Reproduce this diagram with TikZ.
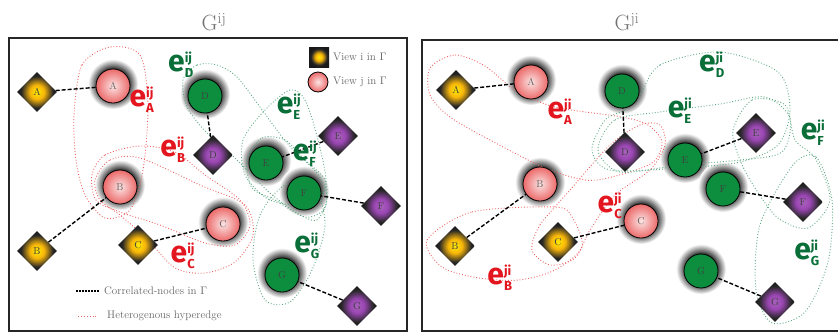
\documentclass[tikz,border=0pt]{standalone}
\usepackage{fontspec}
\newfontfamily\hfont{Fira Sans}
\usetikzlibrary{shapes.geometric,positioning}

\pgfdeclarelayer{paper}
\pgfdeclarelayer{background}
\pgfsetlayers{paper,background,main}

\definecolor{pinkin}{HTML}{FBE3E3}
\definecolor{pinkout}{HTML}{EC6A6A}
\definecolor{nodegreen}{HTML}{0C8E3E}
\definecolor{orangein}{HTML}{F7B50A}
\definecolor{purplein}{HTML}{9A46B2}
\definecolor{labred}{HTML}{E3151E}
\definecolor{labgreen}{HTML}{0A6E38}
\definecolor{hypred}{HTML}{EE6464}
\definecolor{hypgreen}{HTML}{5FAA85}

\pgfdeclareradialshading{halo}{\pgfpoint{0bp}{0bp}}{color(0bp)=(black); color(15bp)=(black!85); color(25bp)=(white); color(50bp)=(white)}
\pgfdeclareradialshading{orangeshade}{\pgfpoint{0bp}{0bp}}{color(0bp)=(yellow!70!orangein); color(9bp)=(orangein); color(20bp)=(black!85); color(25bp)=(black!90); color(50bp)=(black!90)}
\pgfdeclareradialshading{purpleshade}{\pgfpoint{0bp}{0bp}}{color(0bp)=(purplein!85!white); color(9bp)=(purplein); color(20bp)=(black!85); color(25bp)=(black!90); color(50bp)=(black!90)}

\newcommand\hsmall[1]{\mbox{\hfont\bfseries\fontsize{13}{13}\selectfont #1}}
\newcommand\hedge[2]{e$^{\hsmall{#2}}_{\hsmall{#1}}$}

\begin{document}
\begin{tikzpicture}[x=1pt,y=-1pt,
	pink node/.style={circle,draw=black,thick,shading=radial,inner color=pinkin,outer color=pinkout,minimum size=34pt,inner sep=0pt,font=\fontsize{10}{10}\selectfont,text=black!60},
	green node/.style={circle,draw=black,thick,fill=nodegreen,minimum size=34pt,inner sep=0pt,font=\fontsize{10}{10}\selectfont,text=black!75},
	orange node/.style={diamond,shading=orangeshade,minimum size=40pt,inner sep=0pt,font=\fontsize{10}{10}\selectfont,text=black!75},
	purple node/.style={orange node,shading=purpleshade},
	corr/.style={dash pattern=on 4pt off 2pt,line width=1.4pt},
	red edge/.style={dotted,draw=hypred,line width=0.9pt},
	green edge/.style={dotted,draw=hypgreen,line width=0.9pt},
	elabel/.style={font=\hfont\bfseries\fontsize{30}{30}\selectfont,inner sep=0pt},
	legend/.style={font=\fontsize{11}{11}\selectfont,text=black!60,inner sep=0pt,anchor=west},
	title/.style={font=\fontsize{22}{22}\selectfont,text=black!55},
	frame/.style={draw=black!85,line width=2pt}
]
	\begin{pgfonlayer}{paper}
		\fill[white] (0,0) rectangle (838,335);
	\end{pgfonlayer}
	\useasboundingbox (0,0) rectangle (838,335);

	\draw[frame] (9,38) rectangle (407,331);
	\draw[frame] (422,40) rectangle (850,331);

	\node[title] (tL) at (214,22) {G$^{\mathrm{ij}}$};
	\node[title] (tR) at (627,22) {G$^{\mathrm{ji}}$};

	% left panel, G^ij
	\foreach \n/\x/\y in {A/113/86, B/120/187, C/223/224}
		\node[pink node] (Lc\n) at (\x,\y) {\n};
	\foreach \n/\x/\y in {D/205/96, E/266/163, F/304/193, G/282/275}
		\node[green node] (Lc\n) at (\x,\y) {\n};
	\foreach \n/\x/\y in {A/37/92, B/37/251, C/138/245}
		\node[orange node] (Ld\n) at (\x,\y) {\n};
	\foreach \n/\x/\y in {D/213/155, E/338/136, F/381/206, G/357/306}
		\node[purple node] (Ld\n) at (\x,\y) {\n};

	% right panel, G^ji
	\foreach \n/\x/\y in {A/531/82, B/540/184, C/641/221}
		\node[pink node] (Rc\n) at (\x,\y) {\n};
	\foreach \n/\x/\y in {D/622/91, E/685/160, F/723/189, G/701/271}
		\node[green node] (Rc\n) at (\x,\y) {\n};
	\foreach \n/\x/\y in {A/456/90, B/455/246, C/558/242}
		\node[orange node] (Rd\n) at (\x,\y) {\n};
	\foreach \n/\x/\y in {D/625/152, E/756/133, F/803/202, G/775/302}
		\node[purple node] (Rd\n) at (\x,\y) {\n};

	\foreach \p in {L,R}
		\foreach \n in {A,B,C,D,E,F,G}
			\draw[corr] (\p d\n) -- (\p c\n);

	\begin{pgfonlayer}{background}
		\foreach \p in {L,R}
			\foreach \n in {A,B,C,D,E,F,G}
				\shade[shading=halo] ([yshift=2pt]\p c\n.center) circle (25pt);

		% hyperedges of G^ij
		\draw[red edge] plot[smooth cycle] coordinates {(74,115) (82,65) (110,47) (140,55) (148,105) (143,170) (130,210) (105,218) (85,195) (76,160)};
		\draw[red edge] plot[smooth cycle] coordinates {(92,175) (105,155) (140,146) (175,152) (205,175) (240,200) (250,225) (235,245) (205,243) (160,225) (120,212) (96,200)};
		\draw[red edge] plot[smooth cycle] coordinates {(95,180) (110,160) (140,158) (200,185) (245,205) (253,235) (235,262) (205,273) (175,268) (148,240) (120,215) (100,200)};
		\draw[green edge] plot[smooth cycle] coordinates {(183,80) (197,65) (217,65) (237,77) (260,107) (287,143) (317,173) (327,197) (317,220) (297,213) (270,193) (237,160) (207,133) (187,107)};
		\draw[green edge] plot[smooth cycle] coordinates {(290,90) (305,100) (318,140) (326,185) (310,205) (270,200) (245,175) (243,140) (265,110)};
		\draw[green edge] plot[smooth cycle] coordinates {(247,160) (262,138) (285,140) (305,160) (325,180) (325,208) (305,217) (275,200) (252,188)};
		\draw[green edge] plot[smooth cycle] coordinates {(285,185) (315,190) (325,225) (312,270) (290,302) (265,300) (253,260) (260,215)};

		% hyperedges of G^ji
		\draw[red edge] plot[smooth cycle] coordinates {(430,68) (455,55) (485,66) (515,90) (555,107) (622,117) (648,125) (662,142) (652,163) (612,177) (585,180) (545,168) (490,140) (450,117) (430,95)};
		\draw[red edge] plot[smooth cycle] coordinates {(427,240) (472,212) (555,207) (572,217) (582,247) (555,270) (519,280) (479,278) (442,267)};
		\draw[red edge] plot[smooth cycle] coordinates {(532,250) (540,225) (570,190) (610,145) (640,125) (660,125) (665,145) (650,170) (615,195) (590,230) (575,258) (550,265)};
		\draw[green edge] plot[smooth cycle] coordinates {(640,95) (660,65) (720,52) (778,72) (790,110) (778,145) (740,162) (680,168) (610,170) (592,150) (605,120) (625,110)};
		\draw[green edge] plot[smooth cycle] coordinates {(598,150) (615,120) (660,112) (720,104) (765,97) (790,118) (782,152) (740,160) (680,165) (620,172)};
		\draw[green edge] plot[smooth cycle] coordinates {(733,130) (752,100) (785,105) (795,140) (815,158) (830,200) (808,228) (778,218) (755,188) (740,160)};
		\draw[green edge] plot[smooth cycle] coordinates {(793,165) (816,157) (832,200) (828,262) (805,312) (772,323) (756,290) (760,225)};
	\end{pgfonlayer}

	% hyperedge labels
	\node[elabel,text=labred] (eLA) at (142,100) {\hedge{A}{ij}};
	\node[elabel,text=labred] (eLB) at (173,150) {\hedge{B}{ij}};
	\node[elabel,text=labred] (eLC) at (183,256) {\hedge{C}{ij}};
	\node[elabel,text=labgreen] (eLD) at (181,65) {\hedge{D}{ij}};
	\node[elabel,text=labgreen] (eLE) at (289,107) {\hedge{E}{ij}};
	\node[elabel,text=labgreen] (eLF) at (305,154) {\hedge{F}{ij}};
	\node[elabel,text=labgreen] (eLG) at (307,246) {\hedge{G}{ij}};
	\node[elabel,text=labred] (eRA) at (560,112) {\hedge{A}{ji}};
	\node[elabel,text=labred] (eRB) at (500,278) {\hedge{B}{ji}};
	\node[elabel,text=labred] (eRC) at (610,206) {\hedge{C}{ji}};
	\node[elabel,text=labgreen] (eRD) at (712,65) {\hedge{D}{ji}};
	\node[elabel,text=labgreen] (eRE) at (680,111) {\hedge{E}{ji}};
	\node[elabel,text=labgreen] (eRF) at (813,133) {\hedge{F}{ji}};
	\node[elabel,text=labgreen] (eRG) at (807,253) {\hedge{G}{ji}};

	% legend
	\node[minimum size=20pt,inner sep=0pt,shading=orangeshade] (lgi) at (319,57) {};
	\node[legend,right=14pt of lgi.center] (lgit) {View i in $\Gamma$};
	\node[circle,draw=black,thick,minimum size=20pt,inner sep=0pt,shading=radial,inner color=pinkin,outer color=pinkout] (lgj) at (318,82) {};
	\node[legend,right=15pt of lgj.center] (lgjt) {View j in $\Gamma$};
	\node[legend] (lgc) at (104,291) {Correlated-nodes in $\Gamma$};
	\draw[corr,dash pattern=on 2pt off 1pt] ([xshift=-28pt]lgc.west) -- ([xshift=-5pt]lgc.west);
	\node[legend] (lgh) at (107,316) {Heterogenous hyperedge};
	\draw[red edge] ([xshift=-29pt]lgh.west) -- ([xshift=-10pt]lgh.west);
\end{tikzpicture}
\end{document}
